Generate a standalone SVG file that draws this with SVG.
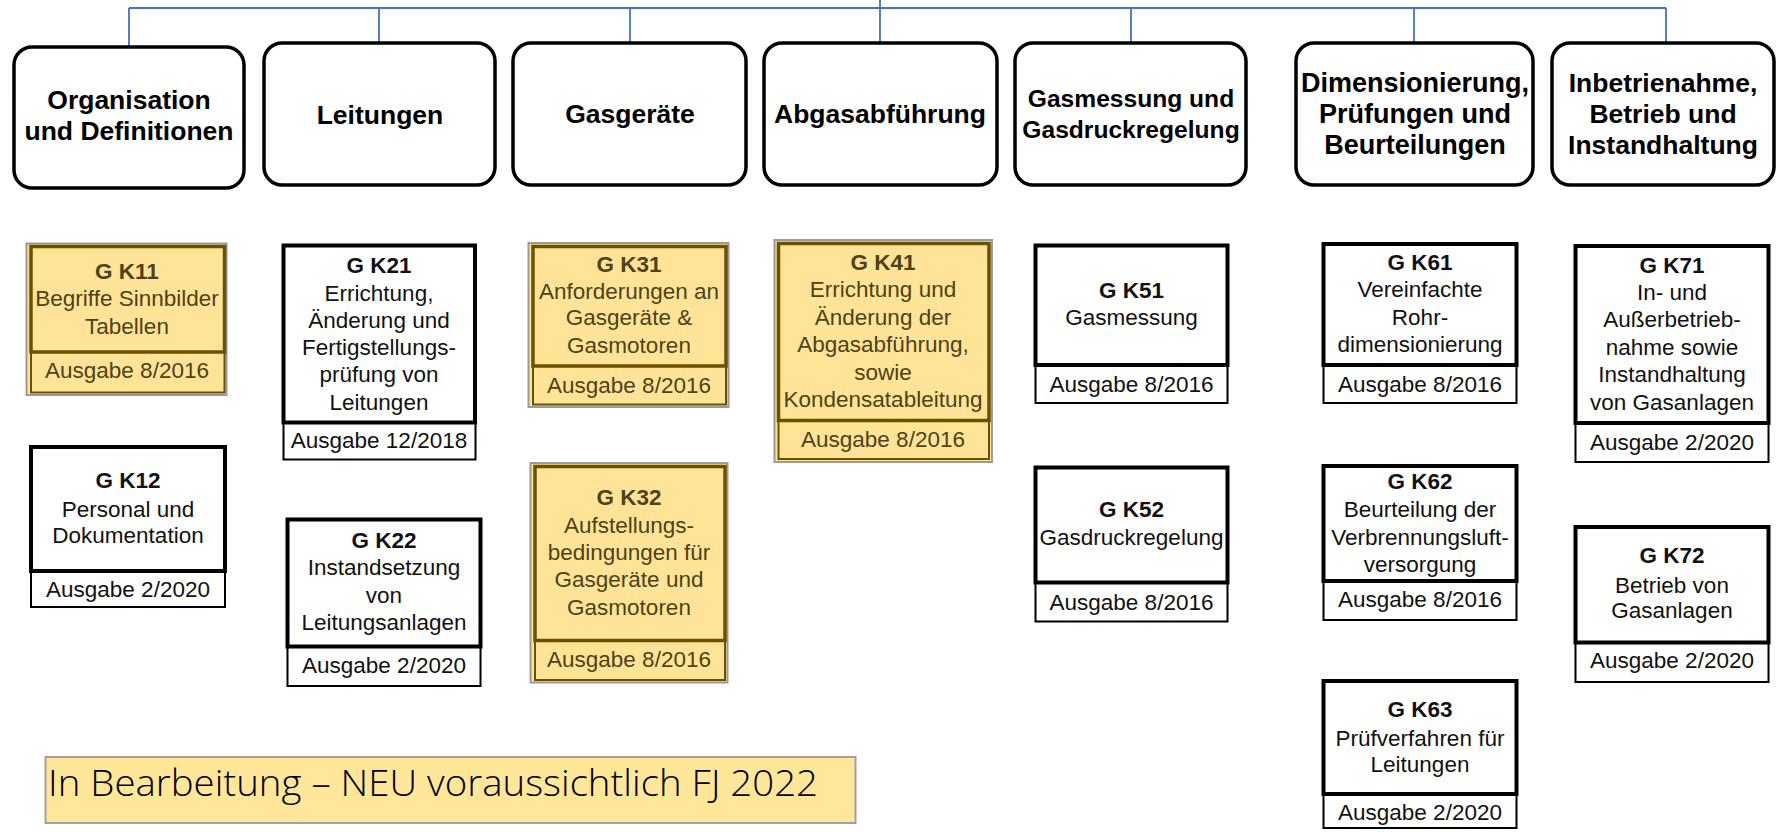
<svg xmlns="http://www.w3.org/2000/svg" width="1777" height="832" viewBox="0 0 1777 832">
<style>
.hdr{fill:#fff;stroke:#000;stroke-width:3.5}
.ht{font-family:"Liberation Sans",Arial,sans-serif;font-weight:bold;font-size:26.5px;text-anchor:middle;fill:#000}
.conn{stroke:#4472C4;stroke-width:1.8;fill:none}
.wt{fill:#fff;stroke:#000;stroke-width:4}
.wb{fill:#fff;stroke:#000;stroke-width:2}
.yo{fill:#FFE497;stroke:#9a9a9a;stroke-width:2}
.yt{fill:none;stroke:#6b5000;stroke-width:3.5}
.yb{fill:none;stroke:#6b5000;stroke-width:2}
.kt{font-family:"Liberation Sans",Arial,sans-serif;font-size:22.5px;text-anchor:middle;fill:#111}
.kb{font-weight:bold}
.yel .kt{fill:#4e4216}
.leg{fill:#FFE699;stroke:#a0a0a0;stroke-width:2}
.lt{font-family:"Open Sans","Noto Sans",sans-serif;font-weight:300;font-size:37px;fill:#000}
</style>
<g id="connectors">
<line class="conn" x1="129" y1="8" x2="1666" y2="8"/>
<line class="conn" x1="880" y1="0" x2="880" y2="43"/>
<line class="conn" x1="129" y1="8" x2="129" y2="47"/>
<line class="conn" x1="379" y1="8" x2="379" y2="43"/>
<line class="conn" x1="630" y1="8" x2="630" y2="43"/>
<line class="conn" x1="1131" y1="8" x2="1131" y2="43"/>
<line class="conn" x1="1414" y1="8" x2="1414" y2="43"/>
<line class="conn" x1="1666" y1="8" x2="1666" y2="43"/>
</g>
<g id="h1"><rect class="hdr" x="14" y="47" width="230" height="141" rx="18"/><text class="ht" x="129" y="109">Organisation</text><text class="ht" x="129" y="140">und Definitionen</text></g>
<g id="h2"><rect class="hdr" x="264" y="43" width="231" height="142" rx="18"/><text class="ht" x="380" y="124">Leitungen</text></g>
<g id="h3"><rect class="hdr" x="513" y="43" width="233" height="142" rx="18"/><text class="ht" x="630" y="123">Gasgeräte</text></g>
<g id="h4"><rect class="hdr" x="764" y="43" width="233" height="142" rx="18"/><text class="ht" x="880" y="123">Abgasabführung</text></g>
<g id="h5"><rect class="hdr" x="1015" y="43" width="231" height="142" rx="18"/><text class="ht" x="1131" y="107" style="font-size:24.6px">Gasmessung und</text><text class="ht" x="1131" y="138" style="font-size:24.6px">Gasdruckregelung</text></g>
<g id="h6"><rect class="hdr" x="1296" y="43" width="237" height="142" rx="18"/><text class="ht" x="1415" y="92" style="font-size:27px">Dimensionierung,</text><text class="ht" x="1415" y="123" style="font-size:27px">Prüfungen und</text><text class="ht" x="1415" y="154" style="font-size:27px">Beurteilungen</text></g>
<g id="h7"><rect class="hdr" x="1552" y="43" width="222" height="142" rx="18"/><text class="ht" x="1663" y="92">Inbetrienahme,</text><text class="ht" x="1663" y="123">Betrieb und</text><text class="ht" x="1663" y="154">Instandhaltung</text></g>

<g id="k11" class="yel"><rect class="yo" x="26.5" y="243.5" width="200" height="151.5"/><rect class="yt" x="31" y="246.5" width="193.5" height="105.5"/><rect class="yb" x="31" y="352" width="193.5" height="40.5"/>
<text class="kt kb" x="127" y="279">G K11</text><text class="kt" x="127" y="306">Begriffe Sinnbilder</text><text class="kt" x="127" y="334">Tabellen</text><text class="kt" x="127" y="378">Ausgabe 8/2016</text></g>

<g id="k12"><rect class="wb" x="31" y="571" width="194" height="36"/><rect class="wt" x="31" y="447" width="194" height="124"/>
<text class="kt kb" x="128" y="488">G K12</text><text class="kt" x="128" y="516.5">Personal und</text><text class="kt" x="128" y="543">Dokumentation</text><text class="kt" x="128" y="596.5">Ausgabe 2/2020</text></g>

<g id="k21"><rect class="wb" x="283.5" y="422.5" width="192" height="37"/><rect class="wt" x="283.5" y="245.5" width="191.5" height="177"/>
<text class="kt kb" x="379" y="273">G K21</text><text class="kt" x="379" y="300.5">Errichtung,</text><text class="kt" x="379" y="327.5">Änderung und</text><text class="kt" x="379" y="355">Fertigstellungs-</text><text class="kt" x="379" y="381.5">prüfung von</text><text class="kt" x="379" y="410">Leitungen</text><text class="kt" x="379" y="448">Ausgabe 12/2018</text></g>

<g id="k22"><rect class="wb" x="287.5" y="646.5" width="193" height="39.5"/><rect class="wt" x="287.5" y="519.5" width="193" height="127"/>
<text class="kt kb" x="384" y="548">G K22</text><text class="kt" x="384" y="575">Instandsetzung</text><text class="kt" x="384" y="603">von</text><text class="kt" x="384" y="630">Leitungsanlagen</text><text class="kt" x="384" y="673">Ausgabe 2/2020</text></g>

<g id="k31" class="yel"><rect class="yo" x="528.5" y="243" width="200" height="164"/><rect class="yt" x="533" y="246.5" width="193" height="119.5"/><rect class="yb" x="533" y="366" width="193" height="38.5"/>
<text class="kt kb" x="629" y="271.5">G K31</text><text class="kt" x="629" y="298.5">Anforderungen an</text><text class="kt" x="629" y="325">Gasgeräte &amp;</text><text class="kt" x="629" y="353">Gasmotoren</text><text class="kt" x="629" y="393">Ausgabe 8/2016</text></g>

<g id="k32" class="yel"><rect class="yo" x="530.5" y="463" width="197" height="219.5"/><rect class="yt" x="535" y="466.5" width="190" height="174"/><rect class="yb" x="535" y="640.5" width="190" height="39.5"/>
<text class="kt kb" x="629" y="505">G K32</text><text class="kt" x="629" y="533">Aufstellungs-</text><text class="kt" x="629" y="560">bedingungen für</text><text class="kt" x="629" y="586.5">Gasgeräte und</text><text class="kt" x="629" y="615">Gasmotoren</text><text class="kt" x="629" y="667">Ausgabe 8/2016</text></g>

<g id="k41" class="yel"><rect class="yo" x="774.5" y="240" width="217.5" height="222"/><rect class="yt" x="778.5" y="243.5" width="210.5" height="177"/><rect class="yb" x="778.5" y="420.5" width="210.5" height="38.5"/>
<text class="kt kb" x="883" y="270">G K41</text><text class="kt" x="883" y="296.5">Errichtung und</text><text class="kt" x="883" y="325">Änderung der</text><text class="kt" x="883" y="351.5">Abgasabführung,</text><text class="kt" x="883" y="380">sowie</text><text class="kt" x="883" y="406.5">Kondensatableitung</text><text class="kt" x="883" y="447">Ausgabe 8/2016</text></g>

<g id="k51"><rect class="wb" x="1035.5" y="365" width="192" height="38"/><rect class="wt" x="1035.5" y="245.5" width="192" height="119.5"/>
<text class="kt kb" x="1131.5" y="298">G K51</text><text class="kt" x="1131.5" y="325">Gasmessung</text><text class="kt" x="1131.5" y="391.5">Ausgabe 8/2016</text></g>

<g id="k52"><rect class="wb" x="1035.5" y="582.5" width="192" height="39"/><rect class="wt" x="1035.5" y="467.5" width="192" height="115"/>
<text class="kt kb" x="1131.5" y="516.5">G K52</text><text class="kt" x="1131.5" y="545">Gasdruckregelung</text><text class="kt" x="1131.5" y="610">Ausgabe 8/2016</text></g>

<g id="k61"><rect class="wb" x="1323.5" y="365" width="193" height="38"/><rect class="wt" x="1323.5" y="244" width="193" height="121"/>
<text class="kt kb" x="1420" y="270">G K61</text><text class="kt" x="1420" y="296.5">Vereinfachte</text><text class="kt" x="1420" y="325">Rohr-</text><text class="kt" x="1420" y="351.5">dimensionierung</text><text class="kt" x="1420" y="391.5">Ausgabe 8/2016</text></g>

<g id="k62"><rect class="wb" x="1323.5" y="581" width="193" height="39"/><rect class="wt" x="1323.5" y="466" width="193" height="115"/>
<text class="kt kb" x="1420" y="489">G K62</text><text class="kt" x="1420" y="516.5">Beurteilung der</text><text class="kt" x="1420" y="545">Verbrennungsluft-</text><text class="kt" x="1420" y="571.5">versorgung</text><text class="kt" x="1420" y="607">Ausgabe 8/2016</text></g>

<g id="k63"><rect class="wb" x="1323.5" y="794" width="193" height="34"/><rect class="wt" x="1323.5" y="681" width="193" height="113"/>
<text class="kt kb" x="1420" y="716.5">G K63</text><text class="kt" x="1420" y="746">Prüfverfahren für</text><text class="kt" x="1420" y="771.5">Leitungen</text><text class="kt" x="1420" y="820">Ausgabe 2/2020</text></g>

<g id="k71"><rect class="wb" x="1575.5" y="423" width="193" height="39"/><rect class="wt" x="1575.5" y="246" width="193" height="177"/>
<text class="kt kb" x="1672" y="272.5">G K71</text><text class="kt" x="1672" y="300">In- und</text><text class="kt" x="1672" y="326.5">Außerbetrieb-</text><text class="kt" x="1672" y="355">nahme sowie</text><text class="kt" x="1672" y="381.5">Instandhaltung</text><text class="kt" x="1672" y="410">von Gasanlagen</text><text class="kt" x="1672" y="450">Ausgabe 2/2020</text></g>

<g id="k72"><rect class="wb" x="1575.5" y="642.5" width="193" height="39.5"/><rect class="wt" x="1575.5" y="527" width="193" height="115.5"/>
<text class="kt kb" x="1672" y="563">G K72</text><text class="kt" x="1672" y="592.5">Betrieb von</text><text class="kt" x="1672" y="618">Gasanlagen</text><text class="kt" x="1672" y="668">Ausgabe 2/2020</text></g>

<g id="legend"><rect class="leg" x="45.5" y="757" width="810" height="66"/><text class="lt" x="48" y="796" textLength="770" lengthAdjust="spacingAndGlyphs">In Bearbeitung – NEU voraussichtlich FJ 2022</text></g>
</svg>
